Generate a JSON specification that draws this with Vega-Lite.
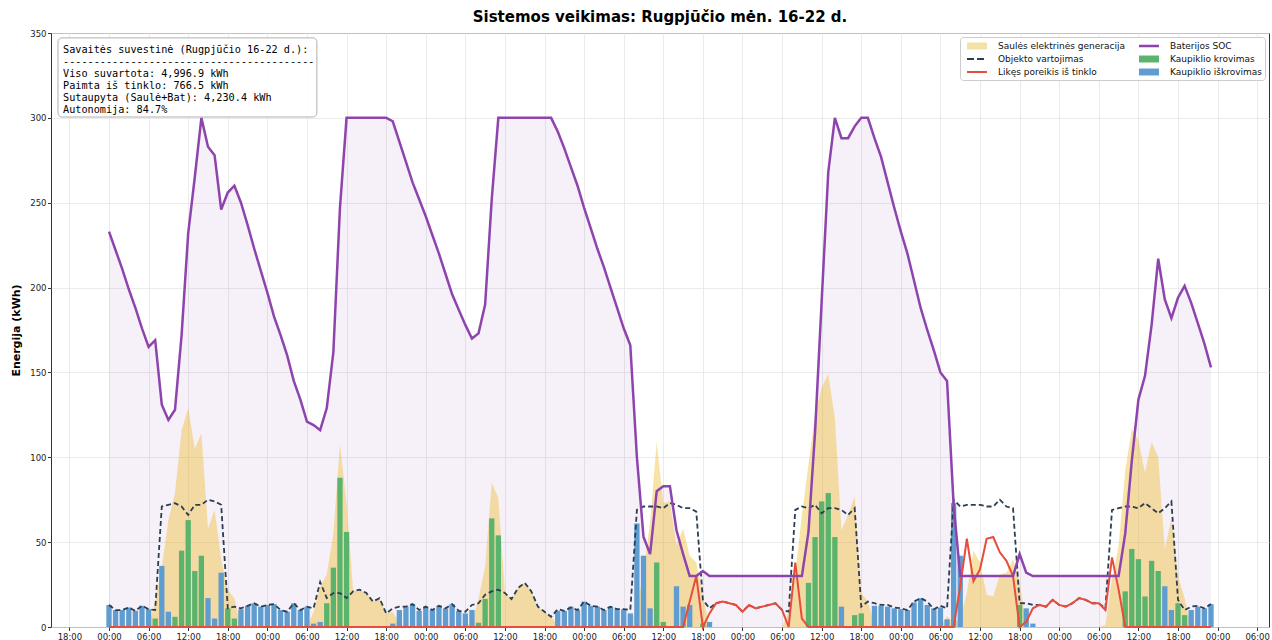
{
  "$schema": "https://vega.github.io/schema/vega-lite/v6.json",
  "width": 1218,
  "height": 594,
  "autosize": {"type": "none"},
  "padding": {"left": 51, "top": 33, "right": 3, "bottom": 13},
  "background": "white",
  "title": {"text": "Sistemos veikimas: Rugpjūčio mėn. 16-22 d.", "fontSize": 15, "fontWeight": "bold", "font": "DejaVu Sans", "color": "#000000", "anchor": "middle", "offset": 4},
  "config": {
    "font": "DejaVu Sans",
    "view": {"stroke": "#333333", "strokeWidth": 1},
    "axis": {"domain": false, "gridColor": "#e6e6e6", "gridWidth": 0.8, "tickColor": "#333333", "tickSize": 3.5, "labelColor": "#222222", "labelFontSize": 8.5, "labelFont": "DejaVu Sans", "labelPadding": 1.5}
  },
  "datasets": {
    "hours": [
      {"hour":0,"cons":13,"solar":0,"charge":0,"discharge":13,"grid":0,"soc":233},
      {"hour":1,"cons":10,"solar":0,"charge":0,"discharge":10,"grid":0,"soc":222},
      {"hour":2,"cons":10,"solar":0,"charge":0,"discharge":10,"grid":0,"soc":211},
      {"hour":3,"cons":11.5,"solar":0,"charge":0,"discharge":11.5,"grid":0,"soc":199},
      {"hour":4,"cons":9.5,"solar":0,"charge":0,"discharge":9.5,"grid":0,"soc":188},
      {"hour":5,"cons":12.5,"solar":0,"charge":0,"discharge":12.5,"grid":0,"soc":176},
      {"hour":6,"cons":10.5,"solar":0,"charge":0,"discharge":10.5,"grid":0,"soc":165},
      {"hour":7,"cons":10,"solar":15,"charge":5,"discharge":0,"grid":0,"soc":169},
      {"hour":8,"cons":71,"solar":35,"charge":0,"discharge":36,"grid":0,"soc":131},
      {"hour":9,"cons":72,"solar":63,"charge":0,"discharge":9,"grid":0,"soc":122},
      {"hour":10,"cons":73,"solar":79,"charge":6,"discharge":0,"grid":0,"soc":128},
      {"hour":11,"cons":71,"solar":116,"charge":45,"discharge":0,"grid":0,"soc":172},
      {"hour":12,"cons":66,"solar":129,"charge":63,"discharge":0,"grid":0,"soc":232},
      {"hour":13,"cons":72,"solar":105,"charge":33,"discharge":0,"grid":0,"soc":265},
      {"hour":14,"cons":72,"solar":114,"charge":42,"discharge":0,"grid":0,"soc":300},
      {"hour":15,"cons":75,"solar":58,"charge":0,"discharge":17,"grid":0,"soc":283},
      {"hour":16,"cons":74,"solar":69,"charge":0,"discharge":5,"grid":0,"soc":278},
      {"hour":17,"cons":72,"solar":40,"charge":0,"discharge":32,"grid":0,"soc":246},
      {"hour":18,"cons":11,"solar":22,"charge":11,"discharge":0,"grid":0,"soc":256},
      {"hour":19,"cons":12,"solar":17,"charge":5,"discharge":0,"grid":0,"soc":260},
      {"hour":20,"cons":11,"solar":0,"charge":0,"discharge":10.5,"grid":0,"soc":250},
      {"hour":21,"cons":12.5,"solar":0,"charge":0,"discharge":12.5,"grid":0,"soc":237},
      {"hour":22,"cons":14,"solar":0,"charge":0,"discharge":14,"grid":0,"soc":223},
      {"hour":23,"cons":12,"solar":0,"charge":0,"discharge":12,"grid":0,"soc":210},
      {"hour":24,"cons":13,"solar":0,"charge":0,"discharge":13,"grid":0,"soc":197},
      {"hour":25,"cons":13.5,"solar":0,"charge":0,"discharge":13.5,"grid":0,"soc":183},
      {"hour":26,"cons":10,"solar":0,"charge":0,"discharge":10,"grid":0,"soc":172},
      {"hour":27,"cons":9,"solar":0,"charge":0,"discharge":9,"grid":0,"soc":160},
      {"hour":28,"cons":14,"solar":0,"charge":0,"discharge":14,"grid":0,"soc":145},
      {"hour":29,"cons":10,"solar":0,"charge":0,"discharge":10,"grid":0,"soc":134},
      {"hour":30,"cons":12,"solar":0,"charge":0,"discharge":12,"grid":0,"soc":121},
      {"hour":31,"cons":11,"solar":9,"charge":0,"discharge":2,"grid":0,"soc":119},
      {"hour":32,"cons":26.5,"solar":23.5,"charge":0,"discharge":3,"grid":0,"soc":116},
      {"hour":33,"cons":17,"solar":31,"charge":14,"discharge":0,"grid":0,"soc":129},
      {"hour":34,"cons":20,"solar":55,"charge":35,"discharge":0,"grid":0,"soc":162},
      {"hour":35,"cons":20,"solar":108,"charge":88,"discharge":0,"grid":0,"soc":247},
      {"hour":36,"cons":17,"solar":73,"charge":56,"discharge":0,"grid":0,"soc":300},
      {"hour":37,"cons":21,"solar":21,"charge":0,"discharge":0,"grid":0,"soc":300},
      {"hour":38,"cons":22,"solar":22,"charge":0,"discharge":0,"grid":0,"soc":300},
      {"hour":39,"cons":20,"solar":20,"charge":0,"discharge":0,"grid":0,"soc":300},
      {"hour":40,"cons":15,"solar":15,"charge":0,"discharge":0,"grid":0,"soc":300},
      {"hour":41,"cons":17,"solar":17,"charge":0,"discharge":0,"grid":0,"soc":300},
      {"hour":42,"cons":8,"solar":8,"charge":0,"discharge":0,"grid":0,"soc":300},
      {"hour":43,"cons":11,"solar":9,"charge":0,"discharge":2,"grid":0,"soc":298},
      {"hour":44,"cons":12,"solar":2,"charge":0,"discharge":10,"grid":0,"soc":286},
      {"hour":45,"cons":12,"solar":0,"charge":0,"discharge":12,"grid":0,"soc":274},
      {"hour":46,"cons":13.5,"solar":0,"charge":0,"discharge":13.5,"grid":0,"soc":262},
      {"hour":47,"cons":10,"solar":0,"charge":0,"discharge":9.5,"grid":0,"soc":252},
      {"hour":48,"cons":12,"solar":0,"charge":0,"discharge":12,"grid":0,"soc":242},
      {"hour":49,"cons":10,"solar":0,"charge":0,"discharge":10,"grid":0,"soc":231},
      {"hour":50,"cons":12.5,"solar":0,"charge":0,"discharge":12.5,"grid":0,"soc":220},
      {"hour":51,"cons":11,"solar":0,"charge":0,"discharge":11,"grid":0,"soc":208},
      {"hour":52,"cons":13.5,"solar":0,"charge":0,"discharge":13.5,"grid":0,"soc":196},
      {"hour":53,"cons":9.5,"solar":0,"charge":0,"discharge":9.5,"grid":0,"soc":187},
      {"hour":54,"cons":9,"solar":1,"charge":0,"discharge":8,"grid":0,"soc":178},
      {"hour":55,"cons":13,"solar":3,"charge":0,"discharge":10,"grid":0,"soc":170},
      {"hour":56,"cons":14,"solar":16.5,"charge":2.5,"discharge":0,"grid":0,"soc":173},
      {"hour":57,"cons":19,"solar":35.5,"charge":16.5,"discharge":0,"grid":0,"soc":190},
      {"hour":58,"cons":21,"solar":85,"charge":64,"discharge":0,"grid":0,"soc":252},
      {"hour":59,"cons":22,"solar":76,"charge":54,"discharge":0,"grid":0,"soc":300},
      {"hour":60,"cons":20,"solar":20,"charge":0,"discharge":0,"grid":0,"soc":300},
      {"hour":61,"cons":16.5,"solar":16.5,"charge":0,"discharge":0,"grid":0,"soc":300},
      {"hour":62,"cons":23,"solar":23,"charge":0,"discharge":0,"grid":0,"soc":300},
      {"hour":63,"cons":26,"solar":26,"charge":0,"discharge":0,"grid":0,"soc":300},
      {"hour":64,"cons":21,"solar":21,"charge":0,"discharge":0,"grid":0,"soc":300},
      {"hour":65,"cons":12,"solar":12,"charge":0,"discharge":0,"grid":0,"soc":300},
      {"hour":66,"cons":9,"solar":9,"charge":0,"discharge":0,"grid":0,"soc":300},
      {"hour":67,"cons":6,"solar":6,"charge":0,"discharge":0,"grid":0,"soc":300},
      {"hour":68,"cons":10.5,"solar":1,"charge":0,"discharge":9.5,"grid":0,"soc":292},
      {"hour":69,"cons":9.5,"solar":0,"charge":0,"discharge":9.5,"grid":0,"soc":282},
      {"hour":70,"cons":11.5,"solar":0,"charge":0,"discharge":12,"grid":0,"soc":271},
      {"hour":71,"cons":10,"solar":0,"charge":0,"discharge":10,"grid":0,"soc":260},
      {"hour":72,"cons":15,"solar":0,"charge":0,"discharge":15,"grid":0,"soc":247},
      {"hour":73,"cons":12.5,"solar":0,"charge":0,"discharge":12.5,"grid":0,"soc":235},
      {"hour":74,"cons":12,"solar":0,"charge":0,"discharge":12,"grid":0,"soc":223},
      {"hour":75,"cons":10,"solar":0,"charge":0,"discharge":10,"grid":0,"soc":212},
      {"hour":76,"cons":12,"solar":0,"charge":0,"discharge":12,"grid":0,"soc":200},
      {"hour":77,"cons":10.5,"solar":0,"charge":0,"discharge":10.5,"grid":0,"soc":188},
      {"hour":78,"cons":10.5,"solar":0,"charge":0,"discharge":10.5,"grid":0,"soc":176},
      {"hour":79,"cons":10,"solar":2,"charge":0,"discharge":8,"grid":0,"soc":166},
      {"hour":80,"cons":69,"solar":12,"charge":0,"discharge":61,"grid":0,"soc":100},
      {"hour":81,"cons":71,"solar":32,"charge":0,"discharge":42,"grid":0,"soc":53},
      {"hour":82,"cons":71,"solar":62,"charge":0,"discharge":11,"grid":0,"soc":43},
      {"hour":83,"cons":71,"solar":109,"charge":38,"discharge":0,"grid":0,"soc":80},
      {"hour":84,"cons":70,"solar":73,"charge":3,"discharge":0,"grid":0,"soc":83},
      {"hour":85,"cons":73,"solar":74,"charge":0,"discharge":0,"grid":0,"soc":83},
      {"hour":86,"cons":72,"solar":48,"charge":0,"discharge":24,"grid":0,"soc":57},
      {"hour":87,"cons":70,"solar":58,"charge":0,"discharge":12,"grid":0,"soc":43},
      {"hour":88,"cons":70,"solar":42,"charge":0,"discharge":13,"grid":15,"soc":30},
      {"hour":89,"cons":68,"solar":38,"charge":0,"discharge":0,"grid":30,"soc":30},
      {"hour":90,"cons":16,"solar":18,"charge":2,"discharge":0,"grid":0,"soc":33},
      {"hour":91,"cons":11,"solar":0,"charge":0,"discharge":3,"grid":8,"soc":30},
      {"hour":92,"cons":14,"solar":0,"charge":0,"discharge":0,"grid":14,"soc":30},
      {"hour":93,"cons":15,"solar":0,"charge":0,"discharge":0,"grid":15,"soc":30},
      {"hour":94,"cons":14,"solar":0,"charge":0,"discharge":0,"grid":14,"soc":30},
      {"hour":95,"cons":13,"solar":0,"charge":0,"discharge":0,"grid":13,"soc":30},
      {"hour":96,"cons":9,"solar":0,"charge":0,"discharge":0,"grid":9,"soc":30},
      {"hour":97,"cons":13,"solar":0,"charge":0,"discharge":0,"grid":13,"soc":30},
      {"hour":98,"cons":11,"solar":0,"charge":0,"discharge":0,"grid":11,"soc":30},
      {"hour":99,"cons":12,"solar":0,"charge":0,"discharge":0,"grid":12,"soc":30},
      {"hour":100,"cons":13,"solar":0,"charge":0,"discharge":0,"grid":13,"soc":30},
      {"hour":101,"cons":14,"solar":0,"charge":0,"discharge":0,"grid":14,"soc":30},
      {"hour":102,"cons":10,"solar":0,"charge":0,"discharge":0,"grid":10,"soc":30},
      {"hour":103,"cons":9,"solar":9,"charge":0,"discharge":0,"grid":0,"soc":30},
      {"hour":104,"cons":69,"solar":31,"charge":0,"discharge":0,"grid":38,"soc":30},
      {"hour":105,"cons":71,"solar":66,"charge":0,"discharge":0,"grid":5,"soc":30},
      {"hour":106,"cons":70,"solar":96,"charge":26,"discharge":0,"grid":0,"soc":56},
      {"hour":107,"cons":72,"solar":125,"charge":53,"discharge":0,"grid":0,"soc":115},
      {"hour":108,"cons":67,"solar":141,"charge":74,"discharge":0,"grid":0,"soc":192},
      {"hour":109,"cons":70,"solar":149,"charge":79,"discharge":0,"grid":0,"soc":268},
      {"hour":110,"cons":70,"solar":123,"charge":53,"discharge":0,"grid":0,"soc":300},
      {"hour":111,"cons":69,"solar":57,"charge":0,"discharge":12,"grid":0,"soc":288},
      {"hour":112,"cons":66,"solar":66,"charge":0,"discharge":0,"grid":0,"soc":288},
      {"hour":113,"cons":70,"solar":77,"charge":7,"discharge":0,"grid":0,"soc":295},
      {"hour":114,"cons":12,"solar":20,"charge":8,"discharge":0,"grid":0,"soc":300},
      {"hour":115,"cons":15,"solar":15,"charge":0,"discharge":0,"grid":0,"soc":300},
      {"hour":116,"cons":14,"solar":1.5,"charge":0,"discharge":12.5,"grid":0,"soc":288},
      {"hour":117,"cons":13,"solar":0,"charge":0,"discharge":12.5,"grid":0,"soc":277},
      {"hour":118,"cons":13,"solar":0,"charge":0,"discharge":12,"grid":0,"soc":262},
      {"hour":119,"cons":11.5,"solar":0,"charge":0,"discharge":11,"grid":0,"soc":247},
      {"hour":120,"cons":11,"solar":0,"charge":0,"discharge":10.5,"grid":0,"soc":233},
      {"hour":121,"cons":10,"solar":0,"charge":0,"discharge":10,"grid":0,"soc":220},
      {"hour":122,"cons":15,"solar":0,"charge":0,"discharge":14.5,"grid":0,"soc":204},
      {"hour":123,"cons":17,"solar":0,"charge":0,"discharge":17,"grid":0,"soc":188},
      {"hour":124,"cons":15,"solar":0,"charge":0,"discharge":13,"grid":0,"soc":175},
      {"hour":125,"cons":10.5,"solar":0,"charge":0,"discharge":11,"grid":0,"soc":163},
      {"hour":126,"cons":12.5,"solar":0,"charge":0,"discharge":11.5,"grid":0,"soc":150},
      {"hour":127,"cons":11,"solar":6.5,"charge":0,"discharge":4.5,"grid":0,"soc":145},
      {"hour":128,"cons":75,"solar":2,"charge":0,"discharge":73,"grid":0,"soc":72},
      {"hour":129,"cons":71,"solar":5,"charge":0,"discharge":42,"grid":24,"soc":30},
      {"hour":130,"cons":72,"solar":20,"charge":0,"discharge":0,"grid":52,"soc":30},
      {"hour":131,"cons":72,"solar":45,"charge":0,"discharge":0,"grid":27,"soc":30},
      {"hour":132,"cons":72,"solar":38,"charge":0,"discharge":0,"grid":34,"soc":30},
      {"hour":133,"cons":71,"solar":19,"charge":0,"discharge":0,"grid":52,"soc":30},
      {"hour":134,"cons":71,"solar":18,"charge":0,"discharge":0,"grid":53,"soc":30},
      {"hour":135,"cons":75,"solar":31,"charge":0,"discharge":0,"grid":44,"soc":30},
      {"hour":136,"cons":71,"solar":32,"charge":0,"discharge":0,"grid":39,"soc":30},
      {"hour":137,"cons":70,"solar":40,"charge":0,"discharge":0,"grid":30,"soc":30},
      {"hour":138,"cons":14,"solar":27,"charge":13,"discharge":0,"grid":0,"soc":43},
      {"hour":139,"cons":14,"solar":0,"charge":0,"discharge":11,"grid":3,"soc":32},
      {"hour":140,"cons":13,"solar":0,"charge":0,"discharge":2,"grid":11,"soc":30},
      {"hour":141,"cons":13,"solar":0,"charge":0,"discharge":0,"grid":13,"soc":30},
      {"hour":142,"cons":12,"solar":0,"charge":0,"discharge":0,"grid":12,"soc":30},
      {"hour":143,"cons":16,"solar":0,"charge":0,"discharge":0,"grid":16,"soc":30},
      {"hour":144,"cons":13,"solar":0,"charge":0,"discharge":0,"grid":13,"soc":30},
      {"hour":145,"cons":12,"solar":0,"charge":0,"discharge":0,"grid":12,"soc":30},
      {"hour":146,"cons":14,"solar":0,"charge":0,"discharge":0,"grid":14,"soc":30},
      {"hour":147,"cons":17,"solar":0,"charge":0,"discharge":0,"grid":17,"soc":30},
      {"hour":148,"cons":16,"solar":0,"charge":0,"discharge":0,"grid":16,"soc":30},
      {"hour":149,"cons":14,"solar":0,"charge":0,"discharge":0,"grid":14,"soc":30},
      {"hour":150,"cons":14,"solar":0,"charge":0,"discharge":0,"grid":14,"soc":30},
      {"hour":151,"cons":11,"solar":1,"charge":0,"discharge":0,"grid":10,"soc":30},
      {"hour":152,"cons":69,"solar":28,"charge":0,"discharge":0,"grid":41,"soc":30},
      {"hour":153,"cons":70,"solar":48,"charge":0,"discharge":0,"grid":22,"soc":30},
      {"hour":154,"cons":71,"solar":92,"charge":21,"discharge":0,"grid":0,"soc":55},
      {"hour":155,"cons":71,"solar":117,"charge":46,"discharge":0,"grid":0,"soc":98},
      {"hour":156,"cons":70,"solar":110,"charge":40,"discharge":0,"grid":0,"soc":134},
      {"hour":157,"cons":73,"solar":91,"charge":18,"discharge":0,"grid":0,"soc":148},
      {"hour":158,"cons":70,"solar":109,"charge":39,"discharge":0,"grid":0,"soc":178},
      {"hour":159,"cons":67,"solar":100,"charge":33,"discharge":0,"grid":0,"soc":217},
      {"hour":160,"cons":70,"solar":46,"charge":0,"discharge":24,"grid":0,"soc":193},
      {"hour":161,"cons":74,"solar":64,"charge":0,"discharge":10,"grid":0,"soc":182},
      {"hour":162,"cons":16,"solar":30,"charge":14,"discharge":0,"grid":0,"soc":194},
      {"hour":163,"cons":10,"solar":17,"charge":7,"discharge":0,"grid":0,"soc":201},
      {"hour":164,"cons":12,"solar":0,"charge":0,"discharge":10,"grid":0,"soc":191},
      {"hour":165,"cons":12.5,"solar":0,"charge":0,"discharge":12,"grid":0,"soc":179},
      {"hour":166,"cons":11,"solar":0,"charge":0,"discharge":11,"grid":0,"soc":167},
      {"hour":167,"cons":13.5,"solar":0,"charge":0,"discharge":13.5,"grid":0,"soc":153}
    ],
    "series": [
      {"series": "Saulės elektrinės generacija"},
      {"series": "Objekto vartojimas"},
      {"series": "Likęs poreikis iš tinklo"},
      {"series": "Baterijos SOC"},
      {"series": "Kaupiklio krovimas"},
      {"series": "Kaupiklio iškrovimas"}
    ],
    "summary": [
      {"lines": ["Savaitės suvestinė (Rugpjūčio 16-22 d.):", "-----------------------------------------", "Viso suvartota: 4,996.9 kWh", "Paimta iš tinklo: 766.5 kWh", "Sutaupyta (Saulė+Bat): 4,230.4 kWh", "Autonomija: 84.7%"]}
    ]
  },
  "layer": [
    {
      "data": {"name": "hours"},
      "mark": {"type": "area", "color": "#8e44ad", "opacity": 0.08},
      "encoding": {
        "x": {
          "field": "hour", "type": "quantitative",
          "scale": {"domain": [-8.79, 175.79], "nice": false, "zero": false, "padding": 0},
          "axis": {
            "title": null, "grid": true,
            "values": [-6,0,6,12,18,24,30,36,42,48,54,60,66,72,78,84,90,96,102,108,114,120,126,132,138,144,150,156,162,168,174],
            "labelExpr": "(((datum.value % 24) + 24) % 24 < 10 ? '0' : '') + (((datum.value % 24) + 24) % 24) + ':00'"
          }
        },
        "y": {"field": "soc", "type": "quantitative", "scale": {"domain": [0, 350], "nice": false, "padding": 0},
          "axis": {"title": "Energija (kWh)", "titleFontSize": 11, "titleFontWeight": "bold", "titleColor": "#000000", "titlePadding": 8, "grid": true, "values": [0,50,100,150,200,250,300,350]}}
      }
    },
    {
      "data": {"name": "hours"},
      "mark": {"type": "area", "color": "#eebc2e", "opacity": 0.42},
      "encoding": {"x": {"field": "hour", "type": "quantitative"}, "y": {"field": "solar", "type": "quantitative", "title": "Energija (kWh)"}}
    },
    {
      "data": {"name": "hours"},
      "transform": [{"filter": "datum.discharge > 0"}],
      "mark": {"type": "bar", "color": "#5f9dd1", "width": 5.3},
      "encoding": {"x": {"field": "hour", "type": "quantitative"}, "y": {"field": "discharge", "type": "quantitative", "title": "Energija (kWh)"}}
    },
    {
      "data": {"name": "hours"},
      "transform": [{"filter": "datum.charge > 0"}],
      "mark": {"type": "bar", "color": "#5ab46e", "width": 5.3},
      "encoding": {"x": {"field": "hour", "type": "quantitative"}, "y": {"field": "charge", "type": "quantitative", "title": "Energija (kWh)"}}
    },
    {
      "data": {"name": "hours"},
      "mark": {"type": "line", "color": "#2c3e50", "strokeWidth": 1.8, "strokeDash": [5, 3]},
      "encoding": {"x": {"field": "hour", "type": "quantitative"}, "y": {"field": "cons", "type": "quantitative", "title": "Energija (kWh)"}}
    },
    {
      "data": {"name": "hours"},
      "mark": {"type": "line", "color": "#e74c3c", "strokeWidth": 2},
      "encoding": {"x": {"field": "hour", "type": "quantitative"}, "y": {"field": "grid", "type": "quantitative", "title": "Energija (kWh)"}}
    },
    {
      "data": {"name": "hours"},
      "mark": {"type": "line", "color": "#8e44ad", "strokeWidth": 2.5},
      "encoding": {"x": {"field": "hour", "type": "quantitative"}, "y": {"field": "soc", "type": "quantitative", "title": "Energija (kWh)"}}
    },
    {
      "data": {"name": "summary"},
      "mark": {"type": "rect", "fill": "#ffffff", "fillOpacity": 0.9, "stroke": "#b0b0b0", "strokeWidth": 1, "cornerRadius": 4},
      "encoding": {
        "x": {"datum": -7.73, "type": "quantitative"},
        "x2": {"datum": 31.5},
        "y": {"datum": 347.1, "type": "quantitative"},
        "y2": {"datum": 300.5}
      }
    },
    {
      "data": {"name": "summary"},
      "mark": {"type": "text", "font": "DejaVu Sans Mono", "fontSize": 10.2, "lineHeight": 12, "align": "left", "baseline": "top", "color": "#000000"},
      "encoding": {
        "x": {"datum": -6.97, "type": "quantitative"},
        "y": {"datum": 343.0, "type": "quantitative"},
        "text": {"field": "lines"}
      }
    },
    {
      "data": {"name": "series"},
      "mark": {"type": "point", "filled": true, "opacity": 0, "size": 1},
      "encoding": {
        "x": {"datum": 80, "type": "quantitative"},
        "y": {"datum": 200, "type": "quantitative"},
        "color": {
          "field": "series", "type": "nominal",
          "scale": {
            "domain": ["Saulės elektrinės generacija", "Objekto vartojimas", "Likęs poreikis iš tinklo", "Baterijos SOC", "Kaupiklio krovimas", "Kaupiklio iškrovimas"],
            "range": ["#f4e1a4", "#2c3e50", "#e74c3c", "#8e44ad", "#5ab46e", "#5f9dd1"]
          },
          "legend": {"title": null, "orient": "top-right", "offset": 4, "columns": 2, "columnPadding": 10, "rowPadding": 2, "symbolSize": 144, "symbolOffset": 8, "symbolOpacity": 1, "symbolStrokeWidth": 0, "labelFontSize": 9.0, "labelFont": "DejaVu Sans", "labelColor": "#111111", "labelOffset": 15, "padding": 3, "fillColor": "#ffffff", "strokeColor": "#cccccc", "cornerRadius": 3}
        },
        "shape": {
          "field": "series", "type": "nominal",
          "scale": {
            "domain": ["Saulės elektrinės generacija", "Objekto vartojimas", "Likęs poreikis iš tinklo", "Baterijos SOC", "Kaupiklio krovimas", "Kaupiklio iškrovimas"],
            "range": ["M-1.667,-0.58H1.667V0.58H-1.667Z", "M-1.667,-0.15H-0.5V0.15H-1.667Z M0,-0.15H1.167V0.15H0Z", "M-1.667,-0.17H1.667V0.17H-1.667Z", "M-1.667,-0.21H1.667V0.21H-1.667Z", "M-1.667,-0.58H1.667V0.58H-1.667Z", "M-1.667,-0.58H1.667V0.58H-1.667Z"]
          },
          "legend": {"title": null, "orient": "top-right", "offset": 4, "columns": 2, "columnPadding": 10, "rowPadding": 2, "symbolSize": 144, "symbolOffset": 8, "symbolOpacity": 1, "symbolStrokeWidth": 0, "labelFontSize": 9.0, "labelFont": "DejaVu Sans", "labelColor": "#111111", "labelOffset": 15, "padding": 3, "fillColor": "#ffffff", "strokeColor": "#cccccc", "cornerRadius": 3}
        }
      }
    }
  ]
}
